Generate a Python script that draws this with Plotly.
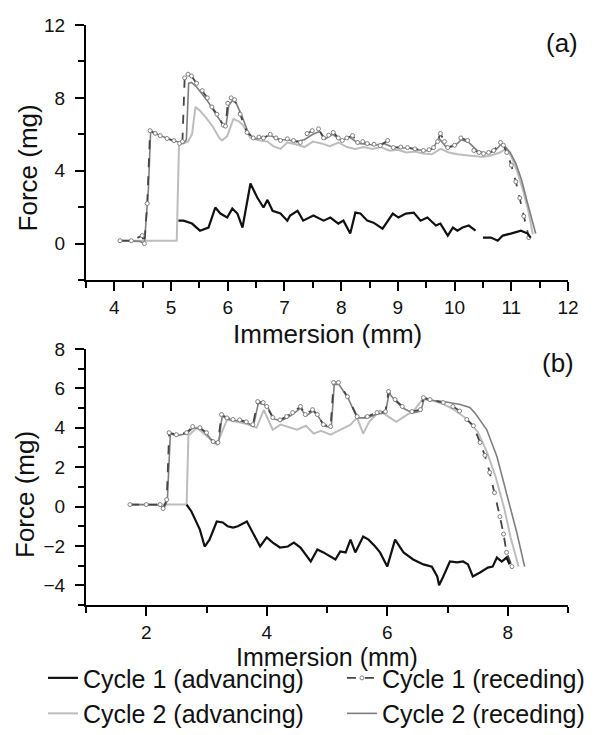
import plotly.graph_objects as go

# ---------------- Panel (a) data ----------------
a_c1_adv_x = [5.13, 5.22, 5.37, 5.51, 5.66, 5.78, 5.87, 5.99, 6.08, 6.17, 6.26, 6.40, 6.52, 6.63, 6.70, 6.79, 6.93,
              7.05, 7.10, 7.23, 7.33, 7.51, 7.69, 7.81, 7.95, 8.04, 8.16, 8.25, 8.34, 8.46, 8.57, 8.73, 8.91, 9.01,
              9.14, 9.28, 9.40, 9.52, 9.67, 9.75, 9.88, 9.97, 10.05, 10.14, 10.25, 10.37, None, 10.50, 10.64, 10.76,
              10.85, 10.99, 11.17, 11.29, 11.34]
a_c1_adv_y = [1.26, 1.26, 1.10, 0.71, 0.88, 1.98, 1.65, 1.43, 1.92, 1.65, 0.88, 3.30, 2.53, 1.98, 2.40, 1.80, 1.65,
              1.26, 1.54, 1.80, 1.26, 1.54, 1.26, 1.43, 1.10, 1.26, 0.55, 1.70, 1.65, 1.26, 1.15, 0.82, 1.65, 1.43,
              1.65, 1.70, 1.26, 1.43, 0.99, 1.10, 0.44, 0.88, 0.71, 0.88, 0.99, 0.71, None, 0.33, 0.33, 0.16,
              0.44, 0.55, 0.71, 0.55, 0.33]

a_c1_rec_x = [4.10, 4.30, 4.49, 4.53, 4.58, 4.63, 4.72, 4.81, 4.93, 5.05, 5.15, 5.20, 5.24, 5.30, 5.36, 5.45, 5.55,
              5.64, 5.72, 5.81, 5.92, 5.96, 6.00, 6.06, 6.12, 6.22, 6.34, 6.45, 6.55, 6.63, 6.75, 6.85, 6.93, 7.05,
              7.16, 7.28, 7.40, 7.49, 7.60, 7.69, 7.78, 7.86, 7.95, 8.02, 8.10, 8.20, 8.29, 8.38, 8.46, 8.58, 8.69,
              8.82, 8.92, 9.05, 9.17, 9.30, 9.45, 9.55, 9.63, 9.70, 9.75, 9.82, 9.88, 10.00, 10.11, 10.23, 10.34,
              10.43, 10.51, 10.60, 10.69, 10.81, 10.86, 10.92, 11.00, 11.08, 11.15, 11.22, 11.31]
a_c1_rec_y = [0.16, 0.16, 0.44, 0.00, 2.20, 6.20, 6.05, 5.93, 5.77, 5.65, 5.50, 5.60, 9.10, 9.30, 9.20, 8.80, 8.40,
              8.00, 7.50, 7.10, 6.50, 6.45, 7.70, 8.00, 7.90, 7.10, 6.10, 5.80, 5.85, 5.80, 6.00, 5.80, 5.66, 5.75,
              5.66, 5.55, 6.04, 6.20, 6.30, 5.80, 5.95, 6.10, 5.80, 5.66, 5.80, 5.93, 5.55, 5.60, 5.49, 5.45, 5.38,
              5.66, 5.27, 5.30, 5.27, 5.20, 5.11, 5.15, 5.27, 5.60, 6.04, 5.60, 5.27, 5.40, 5.80, 5.66, 5.11,
              5.00, 4.94, 5.00, 5.11, 5.55, 5.40, 5.00, 4.30, 3.40, 2.50, 1.50, 0.33]

a_c2_adv_x = [4.10, 4.40, 4.60, 4.80, 5.00, 5.10, 5.14, 5.22, 5.30, 5.37, 5.43, 5.51, 5.62, 5.74, 5.85, 5.90, 5.99,
              6.10, 6.20, 6.27, 6.40, 6.57, 6.70, 6.80, 6.93, 7.05, 7.20, 7.35, 7.50, 7.65, 7.80, 7.95, 8.10, 8.25,
              8.40, 8.55, 8.70, 8.85, 9.00, 9.15, 9.30, 9.45, 9.60, 9.75, 9.90, 10.05, 10.20, 10.35, 10.50, 10.65,
              10.80, 10.90, 11.00, 11.10, 11.20, 11.30, 11.38]
a_c2_adv_y = [0.16, 0.16, 0.16, 0.16, 0.16, 0.16, 5.45, 5.50, 5.60, 6.00, 7.50, 7.30, 6.90, 6.40, 5.80, 5.66, 5.90,
              6.85, 6.70, 6.50, 5.80, 5.66, 5.60, 5.35, 5.20, 5.55, 5.45, 5.30, 5.60, 5.50, 5.35, 5.55, 5.30, 5.20,
              5.30, 5.20, 5.30, 5.10, 5.15, 5.00, 5.05, 4.95, 4.90, 5.20, 5.00, 4.90, 4.85, 4.80, 4.75, 4.85,
              5.00, 5.20, 4.80, 4.00, 3.00, 1.80, 0.50]

a_c2_rec_x = [4.10, 4.30, 4.45, 4.53, 4.60, 4.64, 4.75, 4.85, 4.95, 5.05, 5.15, 5.22, 5.27, 5.31, 5.36, 5.45, 5.55,
              5.65, 5.75, 5.85, 5.93, 5.97, 6.02, 6.08, 6.15, 6.25, 6.36, 6.47, 6.60, 6.75, 6.90, 7.05, 7.20, 7.35,
              7.50, 7.62, 7.72, 7.85, 8.00, 8.15, 8.30, 8.45, 8.60, 8.75, 8.90, 9.05, 9.20, 9.35, 9.50, 9.62, 9.72,
              9.85, 10.00, 10.12, 10.25, 10.40, 10.55, 10.70, 10.82, 10.90, 10.98, 11.08, 11.18, 11.28, 11.36, 11.43]
a_c2_rec_y = [0.16, 0.16, 0.12, 0.00, 3.00, 6.15, 6.00, 5.90, 5.75, 5.65, 5.55, 5.50, 5.70, 8.80, 8.85, 8.60, 8.20,
              7.80, 7.30, 6.80, 6.45, 6.50, 7.60, 7.85, 7.70, 7.00, 6.10, 5.75, 5.80, 5.95, 5.70, 5.70, 5.60, 5.70,
              6.00, 6.15, 5.75, 6.00, 5.65, 5.85, 5.50, 5.45, 5.40, 5.50, 5.30, 5.25, 5.25, 5.15, 5.10, 5.20, 5.80,
              5.30, 5.35, 5.70, 5.55, 5.10, 4.95, 5.05, 5.45, 5.30, 5.00, 4.40, 3.50, 2.30, 1.30, 0.55]

# ---------------- Panel (b) data ----------------
b_c1_adv_x = [2.67, 2.75, 2.89, 2.97, 3.05, 3.17, 3.27, 3.35, 3.44, 3.52, 3.67, 3.77, 3.89, 4.00, 4.10, 4.22, 4.35,
              4.45, 4.56, 4.73, 4.84, 4.94, 5.06, 5.14, 5.22, 5.31, 5.39, 5.47, 5.60, 5.69, 5.80, 5.88, 6.00, 6.13,
              6.27, 6.43, 6.60, 6.74, 6.83, 6.86, 6.93, 7.04, 7.16, 7.26, 7.34, 7.42, 7.54, 7.67, 7.75, 7.82, 7.90,
              7.98, 8.03]
b_c1_adv_y = [0.10, -0.25, -1.17, -2.03, -1.68, -0.76, -0.81, -1.00, -1.07, -1.00, -0.76, -1.32, -2.03, -1.57, -1.83,
              -2.08, -2.03, -1.83, -2.08, -2.79, -2.18, -2.33, -2.54, -2.69, -2.28, -2.33, -1.68, -2.33, -1.52, -1.68,
              -2.03, -2.33, -3.05, -1.68, -2.33, -2.69, -2.94, -3.05, -3.55, -4.00, -3.55, -2.79, -2.84, -2.79, -2.94,
              -3.55, -3.35, -3.10, -3.05, -2.59, -2.79, -2.59, -2.94]

b_c1_rec_x = [1.73, 2.00, 2.23, 2.28, 2.34, 2.38, 2.50, 2.67, 2.77, 2.89, 3.00, 3.11, 3.19, 3.25, 3.34, 3.44, 3.55,
              3.66, 3.77, 3.85, 3.94, 4.00, 4.10, 4.22, 4.33, 4.43, 4.56, 4.64, 4.76, 4.84, 4.94, 5.06, 5.11, 5.19,
              5.34, 5.50, 5.67, 5.83, 5.97, 6.02, 6.13, 6.25, 6.41, 6.55, 6.60, 6.71, 6.93, 7.09, 7.20, 7.32, 7.43,
              7.54, 7.62, 7.70, 7.78, 7.87, 7.93, 7.98, 8.07]
b_c1_rec_y = [0.10, 0.10, 0.10, -0.10, 0.35, 3.75, 3.65, 3.75, 4.06, 4.00, 3.75, 3.30, 3.25, 4.67, 4.50, 4.42, 4.40,
              4.30, 4.16, 5.33, 5.28, 5.08, 4.52, 4.40, 4.57, 4.77, 5.08, 4.67, 4.92, 4.67, 4.16, 4.06, 6.30, 6.30,
              5.58, 4.57, 4.57, 4.77, 4.82, 5.84, 5.43, 5.08, 4.82, 4.92, 5.53, 5.43, 5.28, 5.08, 4.85, 4.42, 4.10,
              3.25, 2.60, 1.73, 0.70, -0.51, -1.40, -2.33, -3.05]

b_c2_adv_x = [1.73, 2.20, 2.50, 2.67, 2.70, 2.84, 3.00, 3.17, 3.34, 3.50, 3.66, 3.83, 3.95, 4.10, 4.23, 4.50, 4.65,
              4.78, 4.90, 5.06, 5.20, 5.39, 5.50, 5.60, 5.70, 5.88, 6.00, 6.15, 6.30, 6.45, 6.60, 6.71, 6.93, 7.09,
              7.30, 7.50, 7.65, 7.80, 7.95, 8.05, 8.18]
b_c2_adv_y = [0.10, 0.10, 0.10, 0.10, 3.60, 4.00, 3.60, 3.15, 4.40, 4.30, 4.20, 4.00, 4.90, 3.90, 4.16, 3.90, 4.10,
              3.70, 3.85, 3.65, 3.85, 4.16, 4.50, 3.70, 4.30, 4.87, 4.60, 4.30, 4.60, 4.90, 5.50, 5.43, 5.20, 4.95,
              4.50, 3.80, 2.80, 1.50, -0.20, -1.60, -3.05]

b_c2_rec_x = [1.73, 2.00, 2.23, 2.29, 2.35, 2.40, 2.50, 2.67, 2.78, 2.90, 3.00, 3.11, 3.20, 3.26, 3.35, 3.45, 3.56,
              3.67, 3.78, 3.86, 3.95, 4.02, 4.12, 4.23, 4.34, 4.44, 4.56, 4.65, 4.77, 4.85, 4.95, 5.07, 5.12, 5.20,
              5.35, 5.50, 5.67, 5.83, 5.97, 6.03, 6.14, 6.26, 6.42, 6.56, 6.61, 6.72, 6.93, 7.21, 7.37, 7.45, 7.65,
              7.82, 7.98, 8.15, 8.28]
b_c2_rec_y = [0.10, 0.10, 0.08, -0.12, 0.30, 3.70, 3.60, 3.70, 4.00, 3.95, 3.70, 3.25, 3.20, 4.60, 4.45, 4.38, 4.35,
              4.25, 4.10, 5.25, 5.20, 5.00, 4.45, 4.35, 4.50, 4.70, 5.00, 4.60, 4.85, 4.60, 4.10, 4.00, 6.20, 6.20,
              5.50, 4.50, 4.50, 4.70, 4.75, 5.75, 5.35, 5.00, 4.75, 4.85, 5.45, 5.40, 5.33, 5.18, 5.03, 4.77, 3.91,
              2.54, 0.71, -1.32, -3.05]

series_names = ["Cycle 1 (advancing)", "Cycle 1 (receding)", "Cycle 2 (advancing)", "Cycle 2 (receding)"]
panel_labels = ["(a)", "(b)"]
x_title = "Immersion (mm)"
y_title = "Force (mg)"

FONT = "Liberation Sans, Arial, Helvetica, sans-serif"

styles = {
    "c1_adv": dict(mode="lines", line=dict(color="#111111", width=2.2)),
    "c1_rec": dict(mode="lines+markers", line=dict(color="#454545", width=1.8, dash="dash"),
                   marker=dict(symbol="circle", size=4, color="white", line=dict(color="#808080", width=1))),
    "c2_adv": dict(mode="lines", line=dict(color="#bdbdbd", width=2.0)),
    "c2_rec": dict(mode="lines", line=dict(color="#7f7f7f", width=1.6)),
}
# advancing traces go in the left legend column, receding in the right one
legend_of = {"c1_adv": "legend", "c2_adv": "legend", "c1_rec": "legend2", "c2_rec": "legend2"}

fig = go.Figure()

panels = [
    ("x", "y", {"c1_adv": (a_c1_adv_x, a_c1_adv_y), "c1_rec": (a_c1_rec_x, a_c1_rec_y),
                "c2_adv": (a_c2_adv_x, a_c2_adv_y), "c2_rec": (a_c2_rec_x, a_c2_rec_y)}, True),
    ("x2", "y2", {"c1_adv": (b_c1_adv_x, b_c1_adv_y), "c1_rec": (b_c1_rec_x, b_c1_rec_y),
                  "c2_adv": (b_c2_adv_x, b_c2_adv_y), "c2_rec": (b_c2_rec_x, b_c2_rec_y)}, False),
]
keys = ["c1_adv", "c1_rec", "c2_adv", "c2_rec"]
draw_order = ["c2_adv", "c2_rec", "c1_rec", "c1_adv"]
for xa, ya, data, show in panels:
    for k in draw_order:
        xs, ys = data[k]
        idx = keys.index(k)
        fig.add_trace(go.Scatter(x=xs, y=ys, name=series_names[idx], xaxis=xa, yaxis=ya,
                                 showlegend=show, legend=legend_of[k], legendrank=idx + 1,
                                 connectgaps=False, **styles[k]))

axis_common = dict(showline=True, linecolor="black", linewidth=2, showgrid=False, zeroline=False,
                   ticks="outside", ticklen=9, tickwidth=2, tickcolor="black",
                   tickfont=dict(family=FONT, size=19, color="#111111"), mirror=False)
minor_common = dict(ticks="outside", ticklen=6, tickwidth=1.5, tickcolor="black")

legend_font = dict(family=FONT, size=25, color="#111111")
fig.update_layout(
    width=595, height=735,
    margin=dict(l=86, r=27, t=25, b=130, autoexpand=False),
    paper_bgcolor="white", plot_bgcolor="white",
    font=dict(family=FONT, color="#111111"),
    xaxis=dict(domain=[0, 1], range=[3.5, 12], dtick=1, tick0=0, anchor="y", ticklabelstandoff=0,
               minor=dict(dtick=0.5, **minor_common), **axis_common),
    yaxis=dict(domain=[0.5603, 1], range=[-2, 12], dtick=4, tick0=0, anchor="x", ticklabelstandoff=6,
               minor=dict(dtick=2, **minor_common), **axis_common),
    xaxis2=dict(domain=[0, 1], range=[1, 9], dtick=2, tick0=0, anchor="y2", ticklabelstandoff=0,
                minor=dict(dtick=1, **minor_common), **axis_common),
    yaxis2=dict(domain=[0, 0.4414], range=[-5, 8], dtick=2, tick0=0, anchor="x2", ticklabelstandoff=6,
                minor=dict(dtick=1, **minor_common), **axis_common),
    legend=dict(orientation="v", x=-0.0892, xanchor="left", y=-0.0864, yanchor="top",
                font=legend_font, tracegroupgap=0, bgcolor="rgba(0,0,0,0)", traceorder="normal"),
    legend2=dict(orientation="v", x=0.531, xanchor="left", y=-0.0864, yanchor="top",
                 font=legend_font, tracegroupgap=0, bgcolor="rgba(0,0,0,0)", traceorder="normal"),
    showlegend=True,
)

title_font = dict(family=FONT, size=26, color="#111111")
bottom_title_font = dict(family=FONT, size=25, color="#111111")
annotations = [
    dict(text=panel_labels[0], x=11.9, y=11.0, xref="x", yref="y", showarrow=False, xanchor="center",
         yanchor="middle", font=title_font),
    dict(text=panel_labels[1], x=8.83, y=7.3, xref="x2", yref="y2", showarrow=False, xanchor="center",
         yanchor="middle", font=title_font),
    dict(text=y_title, x=-0.12, y=0.753, xref="paper", yref="paper", showarrow=False, textangle=-90,
         xanchor="center", yanchor="middle", font=title_font),
    dict(text=y_title, x=-0.127, y=0.191, xref="paper", yref="paper", showarrow=False, textangle=-90,
         xanchor="center", yanchor="middle", font=title_font),
    dict(text=x_title, x=0.5, y=0.4675, xref="paper", yref="paper", showarrow=False,
         xanchor="center", yanchor="middle", font=title_font),
    dict(text=x_title, x=0.5, y=-0.0895, xref="paper", yref="paper", showarrow=False,
         xanchor="center", yanchor="middle", font=bottom_title_font),
]
fig.update_layout(annotations=annotations)

fig.write_html("out.html")
